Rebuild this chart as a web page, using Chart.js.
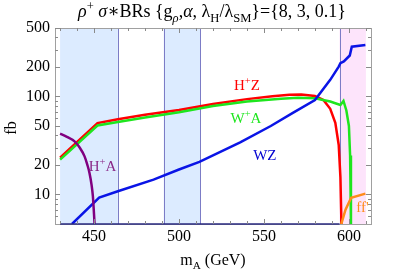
<!DOCTYPE html>
<html>
<head>
<meta charset="utf-8">
<script src="https://cdn.jsdelivr.net/npm/chart.js@4.4.0/dist/chart.umd.min.js"></script>
<style>
  html, body { margin: 0; padding: 0; background: #fff; }
  #wrap { width: 399px; height: 270px; }
</style>
</head>
<body>
<div id="wrap"><canvas id="chart"></canvas></div>
<script>
// values (mA in GeV, cross section in fb)
const hzMass = [430, 452, 464, 480, 500, 520, 540, 555, 565, 572, 580, 585, 589, 592, 594, 595, 595.6];
const hzValues = [23.8, 53.6, 58.5, 65, 73, 84, 94, 100.5, 104, 105, 101, 92, 75, 54, 32, 15, 5];

const waMass = [430, 452, 464, 480, 500, 520, 540, 560, 570, 580, 589, 595, 596.8, 598.5, 600, 600.7, 601.2];
const waValues = [22.7, 50.6, 55, 61, 69, 80, 89, 95, 97, 96, 89, 82, 90, 72, 50, 25, 5];

const wzMass = [437, 453, 464, 485, 500, 512, 524, 536, 554, 567, 580, 589, 594, 595, 597, 600.5, 601.7, 609.7];
const wzValues = [5, 9.3, 10.8, 14.2, 18, 21.5, 27, 34, 50, 68, 92, 148, 202, 219, 228, 262, 322, 336];

const haMass = [430, 434, 438.5, 441.5, 444.4, 446, 447.3, 448.5, 449.3, 450.3];
const haValues = [41.7, 38.8, 34.8, 30.2, 24.5, 20.2, 16.6, 12.6, 9.6, 5];

const ffMass = [595.5, 598, 601.3, 609.7];
const ffValues = [5, 7.0, 9.25, 10.2];

const xTicks = [450, 500, 550, 600];
const yTicks = [10, 20, 50, 100, 200, 500];
const yMinorTicks = [6, 7, 8, 9, 30, 40, 60, 70, 80, 90, 300, 400];

// shaded mass windows
const blueBands = [[430, 464], [491, 512.5]];
const pinkBand = [594.5, 610];

const serif = '"Liberation Serif", "DejaVu Serif", serif';

function pts(xs, ys) {
    return xs.map((x, i) => ({ x: x, y: ys[i] }));
}

function drawRich(ctx, parts, x, y, size, align) {
    const fontFor = p => {
        const s = p.sub || p.sup ? size * 0.7 : size;
        return (p.i ? 'italic ' : '') + s + 'px ' + serif;
    };
    let total = 0;
    parts.forEach(p => { ctx.font = fontFor(p); total += ctx.measureText(p.t).width; });
    let cx = align === 'center' ? x - total / 2 : x;
    ctx.textBaseline = 'alphabetic';
    ctx.textAlign = 'left';
    parts.forEach(p => {
        ctx.font = fontFor(p);
        let dy = 0;
        if (p.sub) dy = size * 0.25;
        if (p.sup) dy = -size * 0.4;
        ctx.fillText(p.t, cx, y + dy);
        cx += ctx.measureText(p.t).width;
    });
}

const decorPlugin = {
    id: 'decor',
    beforeDatasetsDraw(chart) {
        const ctx = chart.ctx;
        const a = chart.chartArea;
        const xs = chart.scales.x;
        ctx.save();
        ctx.fillStyle = '#dcebff';
        blueBands.forEach(b => {
            const x0 = xs.getPixelForValue(b[0]);
            const x1 = xs.getPixelForValue(b[1]);
            ctx.fillRect(x0, a.top, x1 - x0, a.bottom - a.top);
        });
        ctx.fillStyle = '#fde4fb';
        const p0 = xs.getPixelForValue(pinkBand[0]);
        const p1 = xs.getPixelForValue(pinkBand[1]);
        ctx.fillRect(p0, a.top, p1 - p0, a.bottom - a.top);

        ctx.strokeStyle = '#7c7cc6';
        ctx.lineWidth = 1;
        [blueBands[0][1], blueBands[1][0], blueBands[1][1], pinkBand[0]].forEach(v => {
            const px = Math.round(xs.getPixelForValue(v)) + 0.5;
            ctx.beginPath();
            ctx.moveTo(px, a.top);
            ctx.lineTo(px, a.bottom);
            ctx.stroke();
        });
        ctx.restore();
    },
    afterDatasetsDraw(chart) {
        const ctx = chart.ctx;
        const a = chart.chartArea;
        const xs = chart.scales.x;
        const ys = chart.scales.y;
        ctx.save();
        // frame
        ctx.strokeStyle = '#a0a0a0';
        ctx.lineWidth = 1;
        ctx.strokeRect(Math.round(a.left) + 0.5, Math.round(a.top) + 0.5,
            Math.round(a.right - a.left), Math.round(a.bottom - a.top));
        // dark baseline under the shaded region
        ctx.strokeStyle = '#2a2a80';
        ctx.lineWidth = 1.3;
        ctx.beginPath();
        ctx.moveTo(xs.getPixelForValue(blueBands[0][0]), a.bottom);
        ctx.lineTo(xs.getPixelForValue(pinkBand[0]), a.bottom);
        ctx.stroke();

        // inward ticks
        ctx.strokeStyle = '#8a8a8a';
        ctx.lineWidth = 1;
        for (let v = 430; v <= 610; v += 10) {
            const len = v % 50 === 0 ? 5 : 3;
            const px = Math.round(xs.getPixelForValue(v)) + 0.5;
            ctx.beginPath();
            ctx.moveTo(px, a.bottom); ctx.lineTo(px, a.bottom - len);
            ctx.moveTo(px, a.top); ctx.lineTo(px, a.top + len);
            ctx.stroke();
        }
        yTicks.concat(yMinorTicks).forEach(v => {
            const len = yTicks.includes(v) ? 5 : 3;
            const py = Math.round(ys.getPixelForValue(v)) + 0.5;
            ctx.beginPath();
            ctx.moveTo(a.left, py); ctx.lineTo(a.left + len, py);
            ctx.moveTo(a.right, py); ctx.lineTo(a.right - len, py);
            ctx.stroke();
        });

        // curve labels
        const labels = [
            { parts: [{ t: 'H' }, { t: '+', sup: 1 }, { t: 'Z' }], x: 540, y: 131, c: '#ff0000' },
            { parts: [{ t: 'W' }, { t: '+', sup: 1 }, { t: 'A' }], x: 539.4, y: 60, c: '#1ee61e' },
            { parts: [{ t: 'WZ' }], x: 550.5, y: 25.5, c: '#0000d0' },
            { parts: [{ t: 'H' }, { t: '+', sup: 1 }, { t: 'A' }], x: 455, y: 19.7, c: '#8a2a8a' },
            { parts: [{ t: "ff'" }], x: 608, y: 7.4, c: '#ff8c1a' }
        ];
        labels.forEach(l => {
            ctx.fillStyle = l.c;
            drawRich(ctx, l.parts, xs.getPixelForValue(l.x), ys.getPixelForValue(l.y) + 5, 15, 'center');
        });
        ctx.restore();
    },
    afterDraw(chart) {
        const ctx = chart.ctx;
        const a = chart.chartArea;
        ctx.save();
        ctx.fillStyle = '#000';
        // title
        drawRich(ctx, [
            { t: 'ρ', i: 1 }, { t: '+', sup: 1 }, { t: ' ' }, { t: 'σ', i: 1 },
            { t: '∗BRs {g' }, { t: 'ρ', sub: 1, i: 1 }, { t: ',' }, { t: 'α', i: 1 },
            { t: ', λ' }, { t: 'H', sub: 1 }, { t: '/λ' }, { t: 'SM', sub: 1 },
            { t: '}={8, 3, 0.1}' }
        ], 212, 17, 18, 'center');
        // x axis title
        drawRich(ctx, [{ t: 'm' }, { t: 'A', sub: 1 }, { t: ' (GeV)' }], (a.left + a.right) / 2, 265, 16, 'center');
        // y axis title
        ctx.translate(16, (a.top + a.bottom) / 2 + 2);
        ctx.rotate(-Math.PI / 2);
        drawRich(ctx, [{ t: 'fb' }], 0, 0, 16, 'center');
        ctx.restore();
    }
};

function lineSet(label, data, color, smooth) {
    return {
        label: label,
        data: data,
        borderColor: color,
        borderWidth: 2.5,
        pointRadius: 0,
        fill: false,
        tension: 0,
        cubicInterpolationMode: smooth ? 'monotone' : 'default'
    };
}

new Chart(document.getElementById('chart'), {
    type: 'line',
    data: {
        datasets: [
            lineSet('H+A', pts(haMass, haValues), '#800080', true),
            lineSet('WZ', pts(wzMass, wzValues), '#0a14e6', false),
            lineSet('ff\'', pts(ffMass, ffValues), '#ff8c1a', false),
            lineSet('W+A', pts(waMass, waValues), '#1ee61e', false),
            lineSet('H+Z', pts(hzMass, hzValues), '#ff0000', false)
        ]
    },
    options: {
        responsive: true,
        maintainAspectRatio: false,
        animation: false,
        layout: { padding: { top: 28, right: 28, left: 0, bottom: 0 } },
        plugins: {
            legend: { display: false },
            tooltip: { enabled: false }
        },
        scales: {
            x: {
                type: 'linear',
                min: 427,
                max: 613,
                grid: { display: false, drawTicks: false },
                border: { display: false },
                afterBuildTicks: scale => { scale.ticks = xTicks.map(v => ({ value: v })); },
                afterFit: scale => { scale.height = 46; },
                ticks: {
                    padding: 3,
                    color: '#000',
                    font: { family: serif, size: 16 },
                    callback: v => String(v)
                }
            },
            y: {
                type: 'logarithmic',
                min: 5,
                max: 500,
                grid: { display: false, drawTicks: false },
                border: { display: false },
                afterBuildTicks: scale => { scale.ticks = yTicks.map(v => ({ value: v })); },
                afterFit: scale => { scale.width = 55; },
                ticks: {
                    padding: 5,
                    color: '#000',
                    font: { family: serif, size: 16 },
                    callback: v => String(v)
                }
            }
        }
    },
    plugins: [decorPlugin]
});
</script>
</body>
</html>
